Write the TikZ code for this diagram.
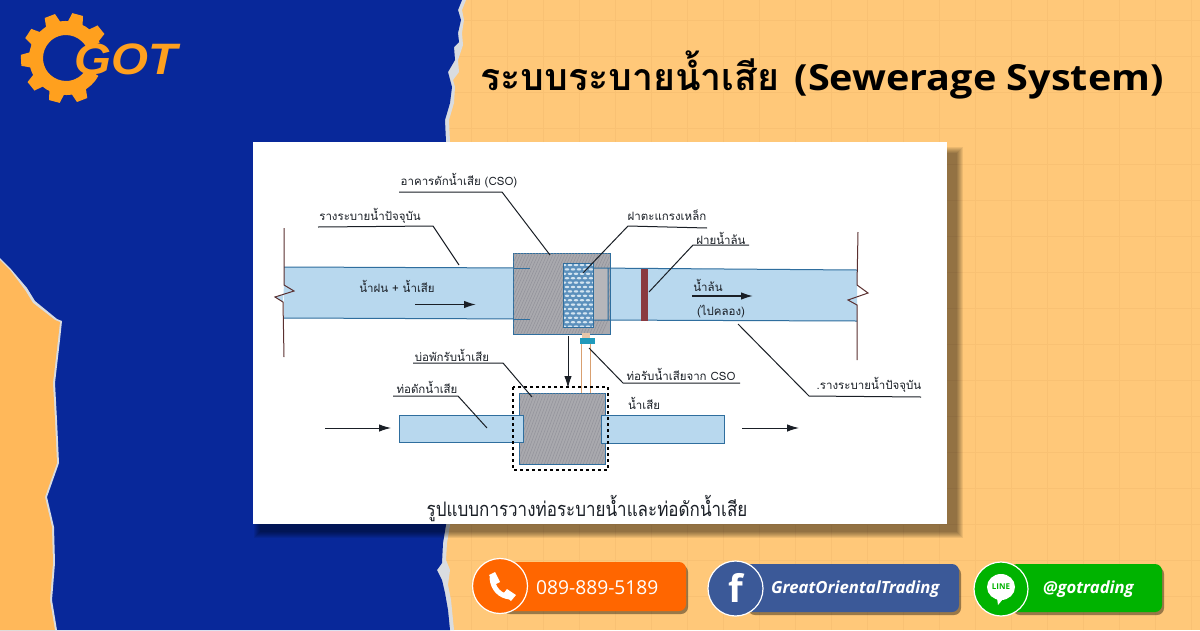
\documentclass[tikz,border=0pt]{standalone}
\usepackage{fontspec}
\usetikzlibrary{arrows.meta}
\setmainfont{Open Sans}
\newfontfamily\thaifont[Script=Thai]{Loma}
\newfontfamily\boldlat{Open Sans}
\newfontfamily\logofont{Liberation Sans}
\definecolor{bgblue}{HTML}{08289A}
\definecolor{bgorange}{HTML}{FFC879}
\definecolor{gridorange}{HTML}{F9C173}
\definecolor{leftorange}{HTML}{FFB85A}
\definecolor{tear}{HTML}{D9DCE0}
\definecolor{pipeblue}{HTML}{B8D8EE}
\definecolor{pipeedge}{HTML}{2F6E9E}
\definecolor{boxgray}{HTML}{A9A9AE}
\definecolor{hatch}{HTML}{8C8C95}
\definecolor{weir}{HTML}{8A3A40}
\definecolor{brk}{HTML}{5A3030}
\definecolor{ink}{HTML}{1A1F26}
\definecolor{logoorange}{HTML}{FFA01E}
\definecolor{btnorange}{HTML}{FF6600}
\definecolor{btnblue}{HTML}{3B5998}
\definecolor{btngreen}{HTML}{00B300}
\definecolor{tubeorange}{HTML}{D9A070}
\definecolor{meshblue}{HTML}{5C90BC}
\definecolor{meshcell}{HTML}{D3E4F0}
\tikzset{
  lbl/.style={font=\thaifont\fontsize{11.5}{13}\selectfont,text=ink,inner sep=0pt},
  leader/.style={draw=ink,line width=1pt,line join=round},
  flow/.style={draw=ink,line width=1pt,-{Latex[length=12pt,width=7.5pt]}},
  heavyflow/.style={flow,line width=1.4pt},
  pipe/.style={fill=pipeblue,draw=pipeedge,line width=1pt},
  grayblock/.style={fill=boxgray,draw=pipeedge,line width=1pt},
  breakline/.style={draw=brk,line width=1pt,line join=miter},
  pill/.style={rounded corners=7pt},
  btncircle/.style={draw=white,line width=1.2pt},
  btnlabel/.style={text=white,inner sep=0pt}
}
\begin{document}
\begin{tikzpicture}[x=1pt,y=-1pt]
\useasboundingbox (0,0) rectangle (1200,630);
% background
\fill[bgorange] (0,0) rectangle (1200,630);
\foreach \gx in {470,506,...,1190} \draw[gridorange,line width=0.8pt] (\gx+1,0) -- (\gx+1,630);
\foreach \gy in {20,56,...,620} \draw[gridorange,line width=0.8pt] (440,\gy) -- (1200,\gy);
% torn paper strip and blue field
\fill[tear] (0,0) -- (466,0) -- (462,10) -- (464,20) -- (462,33) -- (463,45) -- (458,60) -- (459,72) -- (453,80) -- (455,87) -- (454,103) -- (449,120) -- (450,142) -- (450,525) -- (447,543) -- (446,560) -- (450,570) -- (448,585) -- (451,600) -- (454,630) -- (0,630) -- cycle;
\fill[bgblue] (0,0) -- (462,0) -- (458,10) -- (461,20) -- (458,33) -- (459,42) -- (454,47) -- (455,60) -- (448,72) -- (452,87) -- (450,103) -- (445,120) -- (446,142) -- (446,525) -- (443,543) -- (442,563) -- (437,570) -- (442,580) -- (445,593) -- (448,610) -- (450,630) -- (0,630) -- cycle;
% lower-left orange
\fill[tear] (0,258) -- (10,268) -- (27,288) -- (35,301) -- (57,319) -- (62,321) -- (60,340) -- (55,383) -- (57,420) -- (59,463) -- (47,497) -- (54,527) -- (55,563) -- (52,600) -- (57,630) -- (0,630) -- cycle;
\fill[leftorange] (0,260) -- (10,270) -- (25,290) -- (33,303) -- (55,320) -- (60,322) -- (58,340) -- (53,383) -- (55,420) -- (57,463) -- (45,497) -- (52,527) -- (53,563) -- (50,600) -- (55,630) -- (0,630) -- cycle;
% logo
\begin{scope}[shift={(66,58)},y=1pt]
  \draw[logoorange,line width=14pt] (24:30) arc[start angle=24,end angle=332,radius=30];
  \foreach \a in {39,75,111,147,183,219,255,291}
    \fill[logoorange,rotate=\a] (34,-8) -- (45,-5.5) -- (45,5.5) -- (34,8) -- cycle;
\end{scope}
\node[anchor=west,inner sep=0pt,text=logoorange] (logotext) at (74,59)
  {\scalebox{1.08}[1.0]{\logofont\bfseries\itshape\fontsize{44}{44}\selectfont GOT}};
% title
\node[anchor=west,inner sep=0pt,text=black] (title) at (480,75)
  {{\thaifont\bfseries\fontsize{37.5}{40}\selectfont ระบบระบายน้ำเสีย}\hspace{15pt}\scalebox{1.1}[1]{\boldlat\bfseries\fontsize{36}{40}\selectfont (Sewerage System)}};
% picture card with shadow
\foreach \s in {0,1,...,6}
  \fill[black,opacity=0.075] (254+\s,147+\s) rectangle (963-\s,538-\s);
\fill[white] (253,142) rectangle (947,524);
% pipes
\fill[pipeblue] (284,267) -- (514,268) -- (514,319) -- (284,318) -- cycle;
\fill[pipeblue] (284,285) -- (294,291) -- (275,297) -- (283,302) -- cycle;
\draw[pipeedge,line width=1pt] (284,267) -- (530,268) (284,318) -- (530,319);
\fill[pipeblue] (610,268) -- (857,270) -- (857,321) -- (610,320) -- cycle;
\draw[grayblock] (513,253) rectangle (610,334);
\begin{scope}
  \clip (513.5,253.5) rectangle (609.5,333.5);
  \foreach \h in {0,3,...,130}
    \draw[hatch,line width=0.6pt,opacity=0.7] (510+\h,250) -- (470+\h,340);
\end{scope}
\draw[pipeedge,line width=1pt] (514,268) -- (530,268) (514,319) -- (530,319);
\fill[boxgray!85!white] (593,268) rectangle (608,320);
\draw[pipeedge,line width=1pt] (593,268) -- (857,270) (593,320) -- (857,321) (608,268) -- (608,320);
% grate
\fill[meshblue] (563,263) rectangle (593,327);
\begin{scope}
  \clip (563,263) rectangle (593,327);
  \foreach \r in {0,1,...,14} {
    \pgfmathsetmacro{\ry}{265+4.4*\r}
    \pgfmathsetmacro{\rx}{mod(\r,2)==0 ? 564 : 567}
    \foreach \c in {0,1,2,3,4,5}
      \fill[meshcell] (\rx+6*\c,\ry) ellipse[x radius=2.3,y radius=1.2];
  }
\end{scope}
\draw[pipeedge,line width=0.7pt] (563,263) rectangle (593,327);
% weir
\fill[weir] (641,269) rectangle (648,321);
% break lines
\draw[breakline] (284,228) -- (284,285) -- (294,291) -- (275,297) -- (283,302) -- (284,357);
\draw[breakline] (858,232) -- (857,285) -- (868,293) -- (848,300) -- (857,305) -- (857,360);
% tube to lower chamber
\fill[tubeorange!60!white] (582,333) rectangle (590,338);
\draw[tubeorange,line width=1.2pt] (581.5,338) -- (581.5,393) (590.5,338) -- (590.5,393);
\fill[pipeedge!70!cyan] (580,338) rectangle (595,344);
% lower assembly
\draw[pipe] (399,415) rectangle (523,442);
\draw[pipe] (601,415) rectangle (724,443);
\draw[grayblock] (519,393) rectangle (605,464);
\begin{scope}
  \clip (519.5,393.5) rectangle (604.5,463.5);
  \foreach \h in {0,3,...,160}
    \draw[hatch,line width=0.6pt,opacity=0.7] (500+\h,390) -- (470+\h,470);
\end{scope}
\fill[pipeblue] (514,415.5) rectangle (522.5,441.5);
\draw[pipeedge,line width=1pt] (514,415) -- (523,415) -- (523,442) -- (514,442);
\fill[pipeblue] (601.5,415.5) rectangle (610,442.5);
\draw[pipeedge,line width=1pt] (610,415) -- (601,415) -- (601,443) -- (610,443);
\draw[black,line width=1.3pt,dash pattern=on 3pt off 3pt] (513,387) rectangle (608,470);
% labels
\node[lbl,anchor=center] (cso) at (459,181) {อาคารดักน้ำเสีย (CSO)};
\node[lbl,anchor=center] (drain1) at (370,216) {รางระบายน้ำปัจจุบัน};
\node[lbl,anchor=center] (grate) at (667,215) {ฝาตะแกรงเหล็ก};
\node[lbl,anchor=center] (weirl) at (721,238) {ฝายน้ำล้น};
\node[lbl,anchor=center] (rain) at (397,286) {น้ำฝน + น้ำเสีย};
\node[lbl,anchor=center] (over) at (708,285) {น้ำล้น};
\node[lbl,anchor=center] (canal) at (721,312) {(ไปคลอง)};
\node[lbl,anchor=center] (drain2) at (869,385) {.รางระบายน้ำปัจจุบัน};
\node[lbl,anchor=center] (recv) at (681,374) {ท่อรับน้ำเสียจาก CSO};
\node[lbl,anchor=center] (chamber) at (452,355) {บ่อพักรับน้ำเสีย};
\node[lbl,anchor=center] (inter) at (427,387) {ท่อดักน้ำเสีย};
\node[lbl,anchor=center] (waste) at (644,403) {น้ำเสีย};
\node[lbl,anchor=center] (caption) at (587,509) {\scalebox{0.85}[1]{\thaifont\fontsize{20}{22}\selectfont รูปแบบการวางท่อระบายน้ำและท่อดักน้ำเสีย}};
% leader end points
\coordinate (a1) at (399,192); \coordinate (a2) at (502,192); \coordinate (a3) at (550,255);
\coordinate (b1) at (318,227); \coordinate (b2) at (433,226); \coordinate (b3) at (459,265);
\coordinate (c1) at (707,228); \coordinate (c2) at (628,226); \coordinate (c3) at (583,273);
\coordinate (d1) at (749,245); \coordinate (d2) at (693,245); \coordinate (d3) at (649,292);
\coordinate (e1) at (738,324); \coordinate (e2) at (809,396); \coordinate (e3) at (921,397);
\coordinate (f1) at (589,348); \coordinate (f2) at (623,383); \coordinate (f3) at (740,383);
\coordinate (g1) at (413,363); \coordinate (g2) at (503,363); \coordinate (g3) at (532,397);
\coordinate (h1) at (393,396); \coordinate (h2) at (458,396); \coordinate (h3) at (487,428);
\draw[leader] (a1) -- (a2) -- (a3);
\draw[leader] (b1) -- (b2) -- (b3);
\draw[leader] (c1) -- (c2) -- (c3);
\draw[leader] (d1) -- (d2) -- (d3);
\draw[leader] (e1) -- (e2) -- (e3);
\draw[leader] (f1) -- (f2) -- (f3);
\draw[leader] (g1) -- (g2) -- (g3);
\draw[leader] (h1) -- (h2) -- (h3);
% flow arrows
\coordinate (p1) at (415,304.5); \coordinate (p2) at (476,304.5);
\coordinate (q1) at (692,296); \coordinate (q2) at (753,296);
\coordinate (r1) at (568,336); \coordinate (r2) at (568,388);
\coordinate (s1) at (325,428); \coordinate (s2) at (391,428);
\coordinate (t1) at (742,428); \coordinate (t2) at (799,428);
\draw[heavyflow] (p1) -- (p2);
\draw[heavyflow] (q1) -- (q2);
\draw[flow] (r1) -- (r2);
\draw[flow] (s1) -- (s2);
\draw[flow] (t1) -- (t2);
% buttons
\fill[black,opacity=0.4,pill] (503,565) rectangle (688,614);
\fill[btnorange,pill] (500,562) rectangle (686,611);
\node[btncircle,circle,fill=btnorange,minimum size=55pt,inner sep=0pt] (phone) at (500,586) {};
\draw[white,line width=5pt,line cap=round] (492,578) .. controls (493,589) and (500,596) .. (510,597);
\fill[white] (489,575) -- (495,572) -- (500,582) -- (494,585) -- cycle;
\fill[white] (503,594) -- (507,589) -- (516,595) -- (511,601) -- cycle;
\node[btnlabel,anchor=west,font=\fontsize{19.2}{20}\selectfont] (phonetext) at (536,588) {089-889-5189};
\fill[black,opacity=0.4,pill] (748,567) rectangle (961,615);
\fill[btnblue,pill] (745,564) rectangle (959,612);
\node[btncircle,circle,fill=btnblue,minimum size=55pt,inner sep=0pt] (fb) at (735.5,588.5) {};
\node[text=white,inner sep=0pt,font=\boldlat\bfseries\fontsize{38}{38}\selectfont] (fbf) at (735.5,588) {f};
\node[btnlabel,anchor=west,font=\bfseries\itshape\fontsize{16.7}{18}\selectfont] (fbtext) at (771,589) {GreatOrientalTrading};
\fill[black,opacity=0.4,pill] (1013,567) rectangle (1164,615);
\fill[btngreen,pill] (1010,564) rectangle (1162,612);
\node[btncircle,circle,fill=btngreen,minimum size=54pt,inner sep=0pt] (line) at (1001,589) {};
\fill[white] (1001,587) ellipse[x radius=14,y radius=13];
\fill[white] (997,598) -- (1003,599) -- (998,605) -- cycle;
\node[text=btngreen,inner sep=0pt,font=\bfseries\fontsize{8}{8}\selectfont] (linetxt) at (1001,587) {LINE};
\node[btnlabel,anchor=west,font=\bfseries\itshape\fontsize{16.7}{18}\selectfont] (linetext) at (1043,589) {@gotrading};
\end{tikzpicture}
\end{document}
